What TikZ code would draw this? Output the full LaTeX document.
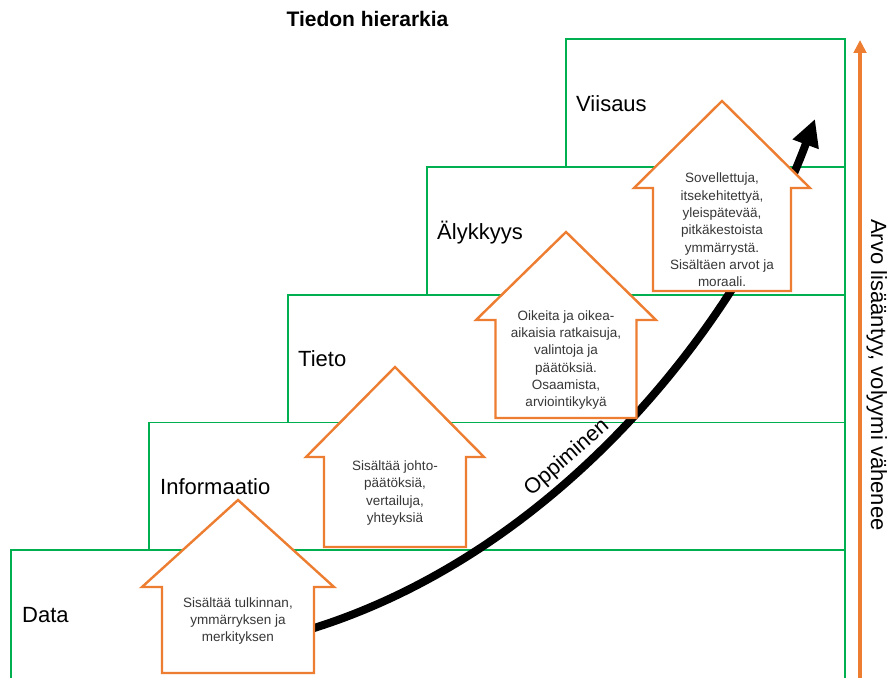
\documentclass[tikz,border=0pt]{standalone}
\usepackage{fontspec}
\setmainfont{Liberation Sans}
\usetikzlibrary{arrows.meta}
\definecolor{tiergreen}{RGB}{0,176,80}
\definecolor{steporange}{RGB}{237,125,49}
\definecolor{bodytext}{RGB}{55,55,55}

% upward block arrow: tip x, tip y, shoulder y, head half width, body half width, bottom y
\newcommand\stepshape[6]{%
  \draw[stepline] (#1,#2) -- (#1+#4,#3) -- (#1+#5,#3) -- (#1+#5,#6)
    -- (#1-#5,#6) -- (#1-#5,#3) -- (#1-#4,#3) -- cycle;}

\begin{document}
\begin{tikzpicture}[x=1pt,y=-1pt,
  tier/.style={draw=tiergreen,line width=1.6pt,fill=white},
  tierlabel/.style={anchor=base west,inner sep=0pt,text=black,
    font=\fontsize{22}{26}\selectfont},
  stepline/.style={draw=steporange,line width=2.4pt,fill=white,line join=miter},
  steptext/.style={align=center,inner sep=0pt,text=bodytext,
    font=\fontsize{13.5}{17.3}\selectfont},
]
\useasboundingbox (0,0) rectangle (888,677);
\clip (0,0) rectangle (888,677);

% title
\node[anchor=base,inner sep=0pt,font=\fontsize{21}{25}\selectfont\bfseries]
  (title) at (367.5,27) {Tiedon hierarkia};

% stacked levels
\draw[tier] (11,550) rectangle (845,700);
\draw[tier] (149,422.5) rectangle (845,550);
\draw[tier] (288,295) rectangle (845,422.5);
\draw[tier] (427,167) rectangle (845,295);
\draw[tier] (566,39) rectangle (845,167);

\node[tierlabel] (data)  at (22,622)  {Data};
\node[tierlabel] (info)  at (160,494) {Informaatio};
\node[tierlabel] (tieto) at (298,366) {Tieto};
\node[tierlabel] (aly)   at (437,239) {Älykkyys};
\node[tierlabel] (viis)  at (576,111) {Viisaus};

% learning curve
\coordinate (learnstart) at (306,630.5);
\coordinate (learnend)   at (815,119);
\draw[line width=8pt,-{Triangle[length=27pt,width=26pt]}]
  (learnstart) .. controls (560,554) and (741,319) .. (learnend);
\node[inner sep=0pt,rotate=41,font=\fontsize{21.5}{25}\selectfont] (oppi)
  at (567,458) {Oppiminen};

% block arrows with descriptions
\stepshape{238}{500}{587}{96}{76}{673}
\node[steptext] (d1) at (238,621) {Sisältää tulkinnan,\\ymmärryksen ja\\merkityksen};

\stepshape{395}{367}{457}{89}{71}{547}
\node[steptext] (d2) at (395,493) {Sisältää johto-\\päätöksiä,\\vertailuja,\\yhteyksiä};

\stepshape{566}{232}{320}{90}{70.5}{418}
\node[steptext] (d3) at (566,360) {Oikeita ja oikea-\\aikaisia ratkaisuja,\\valintoja ja\\päätöksiä.\\Osaamista,\\arviointikykyä};

\stepshape{722}{101}{188}{88}{69}{291}
\node[steptext] (d4) at (722,230) {Sovellettuja,\\itsekehitettyä,\\yleispätevää,\\pitkäkestoista\\ymmärrystä.\\Sisältäen arvot ja\\moraali.};

% value axis
\coordinate (valuebase) at (860,680);
\coordinate (valuetop)  at (860,40);
\draw[draw=steporange,fill=steporange,line width=4.2pt,
  -{Triangle[length=13pt,width=12.5pt]}] (valuebase) -- (valuetop);
\node[anchor=base,inner sep=0pt,rotate=-90,font=\fontsize{22}{26}\selectfont]
  (valuelabel) at (871,375) {Arvo lisääntyy, volyymi vähenee};
\end{tikzpicture}
\end{document}
